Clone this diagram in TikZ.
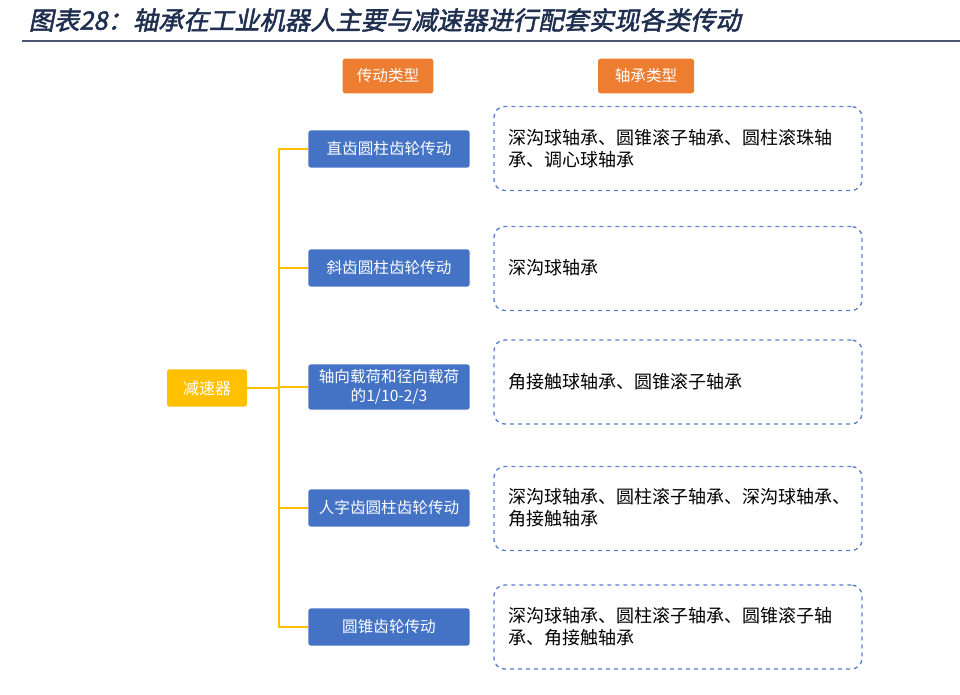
\documentclass[tikz,border=0pt]{standalone}
\usepackage{fontspec}
\setmainfont{Noto Sans CJK SC}
\newfontfamily\titlefont[FakeSlant=0.2,FakeBold=2]{Noto Sans CJK SC}
\definecolor{titleblue}{HTML}{1F2F4F}
\definecolor{boxblue}{HTML}{4472C4}
\definecolor{orangebox}{HTML}{ED7D31}
\definecolor{yellowbox}{HTML}{FFC000}
\definecolor{dashblue}{HTML}{5B7FC7}
\tikzset{
 hdr/.style={fill=orangebox,text=white,rounded corners=2pt,minimum width=68pt,minimum height=26pt,font=\fontsize{11.7}{13}\selectfont},
 bb/.style={fill=boxblue,text=white,rounded corners=2pt,minimum width=121pt,minimum height=28pt,inner xsep=2pt,font=\fontsize{11.7}{14}\selectfont,align=center},
 db/.style={draw=dashblue,dashed,line width=1pt,rounded corners=8pt,minimum width=276pt,minimum height=63pt},
 lab/.style={anchor=west,align=left,font=\fontsize{13.5}{16.5}\selectfont,text=black},
 conn/.style={draw=yellowbox,line width=1.2pt}
}
\begin{document}
\begin{tikzpicture}[x=0.75pt,y=-0.75pt]
\useasboundingbox (0,0) rectangle (960,694);
\node[anchor=west,text=titleblue,font=\titlefont\fontsize{19}{22}\selectfont] (title) at (24,20) {图表28：轴承在工业机器人主要与减速器进行配套实现各类传动};
\coordinate (l1) at (22,41); \coordinate (l2) at (960,41);
\draw[titleblue!80,line width=1.2pt] (l1) -- (l2);
\node[hdr] (h1) at (388,76) {传动类型};
\node[hdr,minimum width=72pt] (h2) at (646,76) {轴承类型};
\node[fill=yellowbox,text=white,rounded corners=2pt,minimum width=60pt,minimum height=28pt,font=\fontsize{12}{13}\selectfont] (r) at (207,388) {减速器};
\node[bb] (b1) at (389,149) {直齿圆柱齿轮传动};
\node[bb] (b2) at (389,268) {斜齿圆柱齿轮传动};
\node[bb,minimum height=34pt] (b3) at (389,387) {轴向载荷和径向载荷\\的1/10-2/3};
\node[bb] (b4) at (389,508) {人字齿圆柱齿轮传动};
\node[bb] (b5) at (389,627) {圆锥齿轮传动};
\coordinate (j) at (279,388);
\draw[conn] (r.east) -- (j);
\draw[conn] (b1.west) -| (j) |- (b5.west);
\draw[conn] (j |- b2) -- (b2.west);
\draw[conn] (j |- b3) -- (b3.west);
\draw[conn] (j |- b4) -- (b4.west);
\node[db] (d1) at (678,148.5) {};
\node[db] (d2) at (678,268.5) {};
\node[db] (d3) at (678,382) {};
\node[db] (d4) at (678,508.5) {};
\node[db] (d5) at (678,627) {};
\node[lab] (t1) at (504,149) {深沟球轴承、圆锥滚子轴承、圆柱滚珠轴\\承、调心球轴承};
\node[lab] (t2) at (504,268) {深沟球轴承};
\node[lab] (t3) at (504,382) {角接触球轴承、圆锥滚子轴承};
\node[lab] (t4) at (504,508) {深沟球轴承、圆柱滚子轴承、深沟球轴承、\\角接触轴承};
\node[lab] (t5) at (504,627) {深沟球轴承、圆柱滚子轴承、圆锥滚子轴\\承、角接触轴承};
\end{tikzpicture}
\end{document}
